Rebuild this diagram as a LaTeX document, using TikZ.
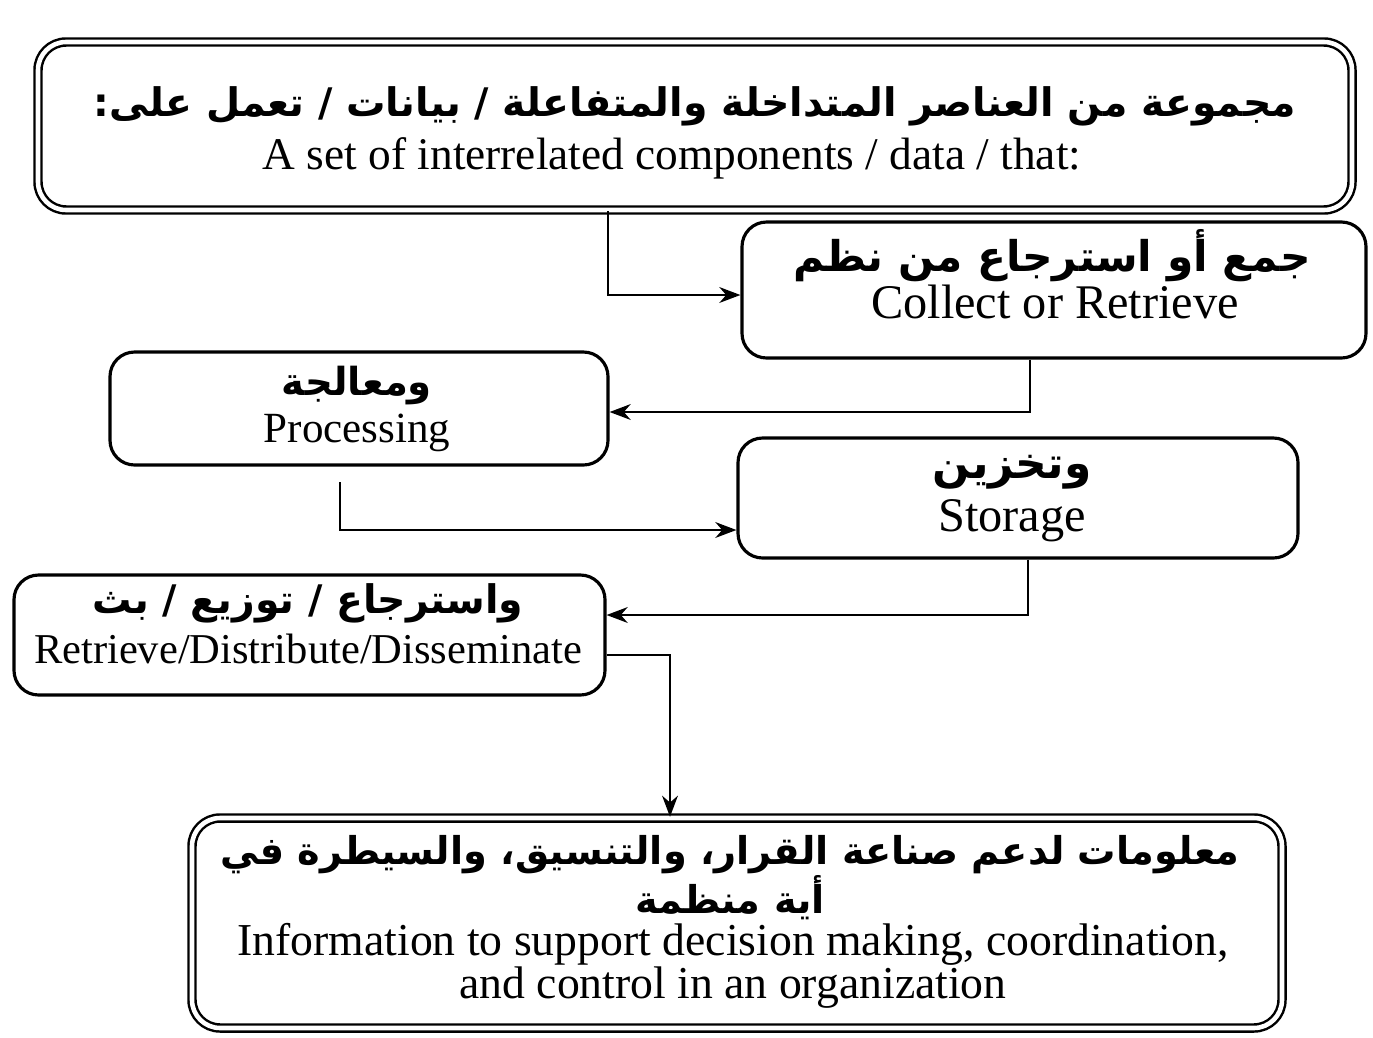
\documentclass[tikz,border=0pt]{standalone}
\usepackage{fontspec}
\setmainfont{Liberation Serif}
\newfontfamily\arabicfont[Script=Arabic]{DejaVu Sans}
\TeXXeTstate=1
\usetikzlibrary{arrows.meta,fit}
\newcommand{\artext}[1]{{\arabicfont\bfseries\beginR #1\endR}}
\newcommand{\fsz}[2]{\fontsize{#1}{#2}\selectfont}
\begin{document}
\begin{tikzpicture}[x=0.02cm,y=-0.02cm,
  box/.style={draw, line width=1.8pt, rounded corners=14pt, inner sep=0pt},
  dbox/.style={draw, line width=1.4pt, double, double distance=2.6pt, rounded corners=16pt, inner sep=0pt},
  en/.style={inner sep=0pt, align=center},
  arx/.style={inner sep=0pt, align=center},
  conn/.style={line width=1.3pt, -{Stealth[length=12pt,width=9pt]}}]
\useasboundingbox (0,0) rectangle (1373,1038);
% boxes
\node[dbox, fit={(38,42) (1352,210)}] (top) {};
\node[box, fit={(742,222) (1366,358)}] (collect) {};
\node[box, fit={(110,352) (608,465)}] (proc) {};
\node[box, fit={(738,438) (1298,558)}] (stor) {};
\node[box, fit={(14,575) (605,695)}] (retr) {};
\node[dbox, fit={(192,818) (1282,1028)}] (info) {};
% texts
\node[arx, font=\fsz{22.4}{27}] (t1a) at (695,106) {\artext{مجموعة من العناصر المتداخلة والمتفاعلة / بيانات / تعمل على:}};
\node[en, font=\fsz{25.8}{30}] (t1e) at (672,158) {A set of interrelated components / data / that:};
\node[arx, font=\fsz{24.1}{29}] (t2a) at (1052,256) {\artext{جمع أو استرجاع من نظم}};
\node[en, font=\fsz{27.5}{32}] (t2e) at (1055,302) {Collect or Retrieve};
\node[arx, font=\fsz{22}{27}] (t3a) at (357,386) {\artext{ومعالجة}};
\node[en, font=\fsz{24.5}{29}] (t3e) at (357,433) {Processing};
\node[arx, font=\fsz{25}{30}] (t4a) at (1012,472) {\artext{وتخزين}};
\node[en, font=\fsz{27.5}{32}] (t4e) at (1012,521) {Storage};
\node[arx, font=\fsz{22.4}{27}] (t5a) at (308,603) {\artext{واسترجاع / توزيع / بث}};
\node[en, font=\fsz{24.2}{29}] (t5e) at (308,649) {Retrieve/Distribute/Disseminate};
\node[arx, font=\fsz{21.8}{25.5}] (t6a) at (730,878) {\artext{معلومات لدعم صناعة القرار، والتنسيق، والسيطرة في}\\\artext{أية منظمة}};
\node[en, font=\fsz{26}{21}] (t6e) at (733,966) {Information to support decision making, coordination,\\and control in an organization};
% connectors
\coordinate (c1) at (608,295);
\coordinate (c2) at (1030,412);
\coordinate (p0) at (340,482);
\coordinate (c3) at (340,530);
\coordinate (c4) at (1028,615);
\coordinate (c5) at (670,655);
\draw[conn] (top.south -| c1) -- (c1) -- (collect.west |- c1);
\draw[conn] (collect.south -| c2) -- (c2) -- (proc.east |- c2);
\draw[conn] (p0) -- (c3) -- (stor.west |- c3);
\draw[conn] (stor.south -| c4) -- (c4) -- (retr.east |- c4);
\draw[conn] (retr.east |- c5) -- (c5) -- (info.north -| c5);
\end{tikzpicture}
\end{document}
